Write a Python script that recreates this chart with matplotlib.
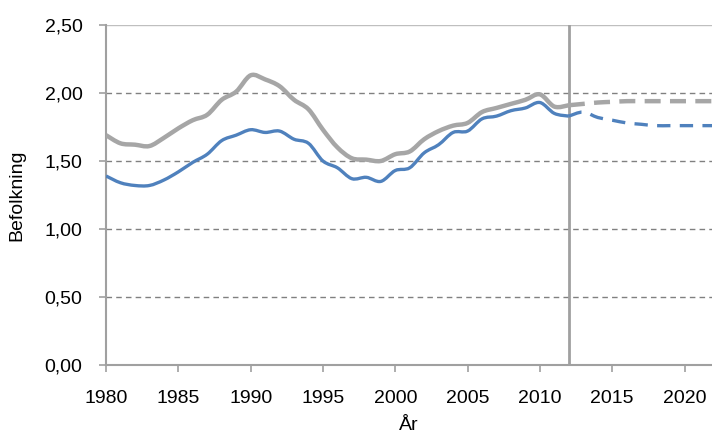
import matplotlib
matplotlib.use("Agg")
import matplotlib.pyplot as plt
from matplotlib.path import Path
from matplotlib.patches import PathPatch

years_hist = list(range(1980, 2013))
upper_hist = [1.69, 1.63, 1.62, 1.61, 1.67, 1.74, 1.80, 1.84, 1.95, 2.01,
              2.13, 2.10, 2.05, 1.95, 1.88, 1.73, 1.60, 1.52, 1.51, 1.50,
              1.55, 1.57, 1.66, 1.72, 1.76, 1.78, 1.86, 1.89, 1.92, 1.95,
              1.99, 1.90, 1.91]
lower_hist = [1.39, 1.34, 1.32, 1.32, 1.36, 1.42, 1.49, 1.55, 1.65, 1.69,
              1.73, 1.71, 1.72, 1.66, 1.63, 1.50, 1.45, 1.37, 1.38, 1.35,
              1.43, 1.45, 1.56, 1.62, 1.71, 1.72, 1.81, 1.83, 1.87, 1.89,
              1.93, 1.85, 1.83]

years_proj = list(range(2012, 2023))
upper_proj = [1.91, 1.92, 1.93, 1.935, 1.94, 1.94, 1.94, 1.94, 1.94, 1.94, 1.94]
lower_proj = [1.83, 1.86, 1.82, 1.80, 1.78, 1.77, 1.76, 1.76, 1.76, 1.76, 1.76]

x_ticks = list(range(1980, 2021, 5))
y_ticks = [0.0, 0.5, 1.0, 1.5, 2.0, 2.5]
y_ticklabels = ["0,00", "0,50", "1,00", "1,50", "2,00", "2,50"]
divider_year = 2012

plt.rcParams['font.family'] = ['Liberation Sans', 'DejaVu Sans']

GRAY = "#A6A6A6"
BLUE = "#4F81BD"
AXIS = "#A0A0A0"


def smooth_path(xs, ys, tension=1/6):
    """Excel-style smoothed line: cubic Bezier segments through every point."""
    n = len(xs)
    verts = [(xs[0], ys[0])]
    codes = [Path.MOVETO]
    for i in range(n - 1):
        x0, y0 = (xs[i - 1], ys[i - 1]) if i > 0 else (xs[i], ys[i])
        x1, y1 = xs[i], ys[i]
        x2, y2 = xs[i + 1], ys[i + 1]
        x3, y3 = (xs[i + 2], ys[i + 2]) if i + 2 < n else (x2, y2)
        c1 = (x1 + (x2 - x0) * tension, y1 + (y2 - y0) * tension)
        c2 = (x2 - (x3 - x1) * tension, y2 - (y3 - y1) * tension)
        verts += [c1, c2, (x2, y2)]
        codes += [Path.CURVE4] * 3
    return Path(verts, codes)


fig = plt.figure(figsize=(7.12, 4.33), dpi=100)
ax = fig.add_axes([106/712, 1 - 365/433, 1 - 106/712, (365 - 25)/433])

for y in y_ticks[1:-1]:
    ax.axhline(y, color="#808080", lw=1.0, ls=(0, (4, 3)), zorder=1)
ax.axhline(2.5, color="#BFBFBF", lw=1.0, zorder=1)

ax.axvline(divider_year, color=AXIS, lw=2.0, zorder=2)

series = [
    (years_hist, upper_hist, GRAY, 3.2, "-", 3),
    (years_hist, lower_hist, BLUE, 2.4, "-", 4),
    (years_proj, upper_proj, GRAY, 3.2, (0, (3.6, 2.1)), 3),
    (years_proj, lower_proj, BLUE, 2.4, (0, (4, 2.8)), 4),
]
for xs, ys, col, lw, ls, z in series:
    patch = PathPatch(smooth_path(xs, ys), facecolor="none", edgecolor=col,
                      lw=lw, ls=ls, joinstyle="round", capstyle="butt",
                      zorder=z)
    ax.add_patch(patch)

ax.set_xlim(1980, 2021.9)
ax.set_ylim(0, 2.5)
ax.set_xticks(x_ticks)
ax.set_xticklabels([str(x) for x in x_ticks])
ax.set_yticks(y_ticks)
ax.set_yticklabels(y_ticklabels)

for s in ["top", "right"]:
    ax.spines[s].set_visible(False)
for s in ["left", "bottom"]:
    ax.spines[s].set_color(AXIS)
    ax.spines[s].set_linewidth(1.5)

ax.tick_params(axis="both", direction="out", length=5, width=1.2, color=AXIS,
               labelsize=14, labelcolor="#000000")
ax.tick_params(axis="x", pad=13)
ax.tick_params(axis="y", pad=12)

ax.set_xlabel("År", fontsize=14, labelpad=7)
ax.set_ylabel("Befolkning", fontsize=14, labelpad=14)

fig.savefig("out.png", dpi=100)
